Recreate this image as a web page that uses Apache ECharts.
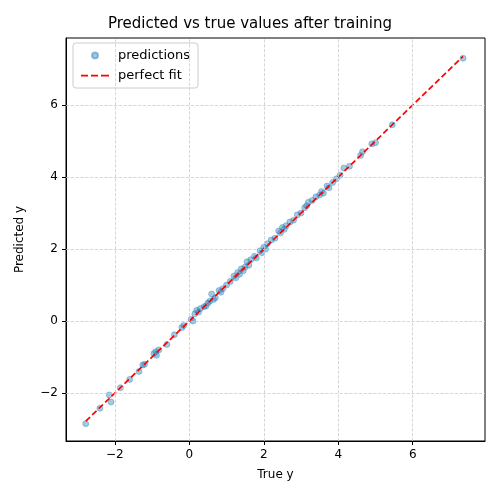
<!DOCTYPE html>
<html><head><meta charset="utf-8">
<script src="https://cdn.jsdelivr.net/npm/echarts@6/dist/echarts.min.js"></script>
<style>html,body{margin:0;padding:0;background:#fff}#c{width:500px;height:500px}</style>
</head><body><div id="c"></div>
<script>
const trueY=[-2.78,-2.4,-2.15,-2.1,-1.85,-1.6,-1.35,-1.2,-1.25,-0.95,-0.9,-0.88,-0.82,-0.6,-0.4,-0.2,-0.15,0.05,0.1,0.15,0.2,0.25,0.3,0.4,0.45,0.5,0.55,0.6,0.65,0.7,0.8,0.85,0.9,1.0,1.1,1.2,1.25,1.3,1.35,1.4,1.45,1.5,1.55,1.6,1.65,1.75,1.8,1.9,1.95,2.0,2.05,2.1,2.2,2.3,2.4,2.45,2.5,2.55,2.6,2.7,2.8,2.9,3.0,3.1,3.15,3.2,3.3,3.4,3.5,3.55,3.6,3.7,3.75,3.85,3.95,4.05,4.15,4.3,4.6,4.65,4.9,5.0,5.45,7.35];
const predY=[-2.85,-2.42,-2.05,-2.25,-1.85,-1.62,-1.4,-1.2,-1.22,-0.9,-0.85,-0.95,-0.8,-0.65,-0.38,-0.18,-0.12,0.05,0.0,0.2,0.3,0.25,0.35,0.4,0.42,0.5,0.55,0.75,0.6,0.65,0.85,0.8,0.9,1.0,1.1,1.25,1.2,1.35,1.3,1.45,1.4,1.5,1.65,1.55,1.7,1.8,1.75,1.95,1.9,2.05,2.0,2.15,2.25,2.3,2.5,2.45,2.6,2.55,2.65,2.75,2.8,2.95,3.0,3.15,3.2,3.3,3.35,3.45,3.5,3.6,3.55,3.75,3.7,3.85,3.95,4.05,4.25,4.3,4.6,4.7,4.92,4.95,5.45,7.3];
const fitLine=[-2.78,7.35];
const xTicks=[-2,0,2,4,6];
const yTicks=[-2,0,2,4,6];
const fmt=v=>String(v).replace('-','\u2212');
const grid={type:'dashed',color:'#cccccc',width:0.8};
const c=echarts.init(document.getElementById('c'));
c.setOption({
 animation:false,
 textStyle:{fontFamily:'DejaVu Sans'},
 title:{text:'Predicted vs true values after training',left:'center',top:12,textStyle:{fontSize:15,fontWeight:'normal',color:'#000'}},
 grid:{left:66,right:15,top:38,bottom:59,show:true,borderColor:'#000',borderWidth:1},
 legend:{orient:'vertical',left:73,top:43,padding:[6,8],itemGap:7,borderColor:'#ccc',borderWidth:1,borderRadius:3,textStyle:{fontSize:13,color:'#000',padding:[0,0,0,4]},itemWidth:28,itemHeight:6,
  data:[{name:'predictions',icon:'circle'},{name:'perfect fit',icon:'path://M0,2.2h7v1.7h-7z M10,2.2h7v1.7h-7z M20,2.2h8v1.7h-8z M0,0h0.01v6h-0.01z M28,0h0.01v6h-0.01z'}]},
 xAxis:{type:'value',min:-3.31,max:7.94,name:'True y',nameLocation:'middle',nameGap:28,nameTextStyle:{fontSize:12,color:'#000'},
  axisLine:{onZero:false,lineStyle:{color:'#000'}},splitLine:{show:false},
  axisTick:{customValues:xTicks,length:4,lineStyle:{color:'#000'}},axisLabel:{customValues:xTicks,formatter:fmt,color:'#000',fontSize:12}},
 yAxis:{type:'value',min:-3.33,max:7.86,name:'Predicted y',nameLocation:'middle',nameGap:40,nameTextStyle:{fontSize:12,color:'#000'},
  axisLine:{show:true,onZero:false,lineStyle:{color:'#000'}},splitLine:{show:false},
  axisTick:{show:true,customValues:yTicks,length:4,lineStyle:{color:'#000'}},axisLabel:{customValues:yTicks,formatter:fmt,color:'#000',fontSize:12}},
 series:[
  {name:'grid',type:'line',data:[],silent:true,markLine:{silent:true,symbol:'none',label:{show:false},lineStyle:grid,
    data:xTicks.map(v=>({xAxis:v})).concat(yTicks.map(v=>({yAxis:v})))}},
  {name:'predictions',type:'scatter',symbolSize:6,itemStyle:{color:'rgba(31,119,180,0.5)',borderColor:'rgba(31,119,180,0.55)',borderWidth:0.8},data:trueY.map((t,i)=>[t,predY[i]]),z:3},
  {name:'perfect fit',type:'line',symbol:'none',lineStyle:{color:'#ff0000',type:[6,3],width:1.7},itemStyle:{color:'#ff0000'},data:fitLine.map(v=>[v,v]),z:4}
 ]
});
</script></body></html>
